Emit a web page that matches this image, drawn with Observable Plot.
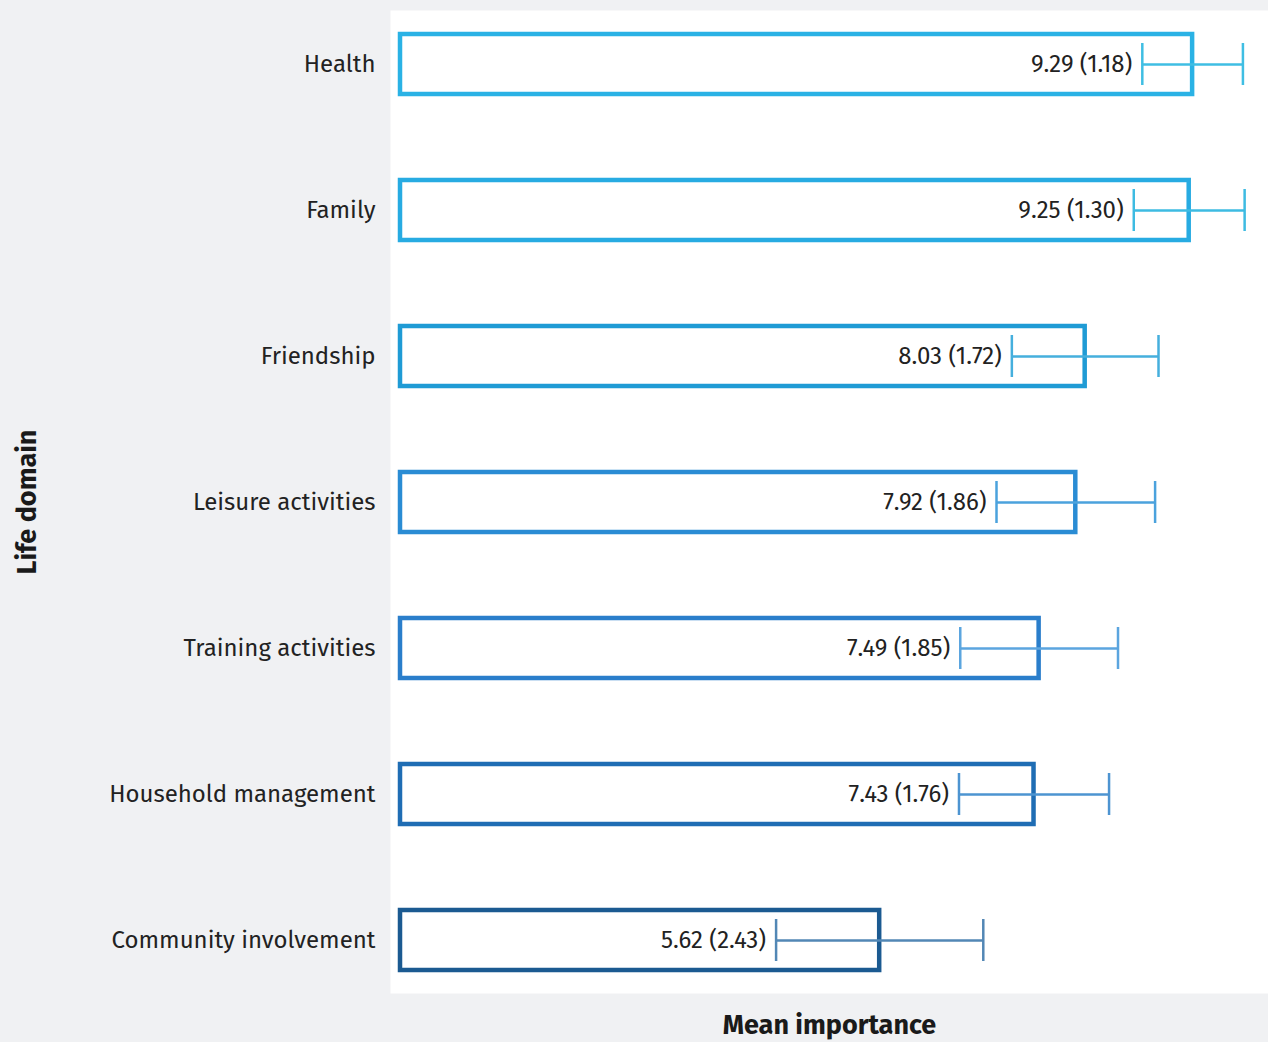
<!DOCTYPE html>
<html>
<head>
<meta charset="utf-8">
<script src="https://cdn.jsdelivr.net/npm/d3@7"></script>
<script src="https://cdn.jsdelivr.net/npm/@observablehq/plot@0.6"></script>
<style>
  html, body { margin: 0; padding: 0; background: #f0f1f3; }
  #chart svg { display: block; }
</style>
</head>
<body>
<div id="chart"></div>
<script>
const domains = ["Health", "Family", "Friendship", "Leisure activities", "Training activities", "Household management", "Community involvement"];
const means = [9.29, 9.25, 8.03, 7.92, 7.49, 7.43, 5.62];
const sds = [1.18, 1.30, 1.72, 1.86, 1.85, 1.76, 2.43];
const barColors = ["#2ab2e5", "#27abe2", "#1f9bd5", "#2a8cd4", "#2a7ecb", "#1f6db4", "#1b5a91"];
const errColors = ["#3fbee3", "#3dbbe2", "#45afdd", "#4ba2dd", "#5ba5df", "#4d94d1", "#5287b5"];

const data = domains.map((d, i) => ({
  domain: d, mean: means[i], sd: sds[i],
  lo: means[i] - sds[i] / 2, hi: means[i] + sds[i] / 2,
  bar: barColors[i], err: errColors[i],
  label: `${means[i].toFixed(2)} (${sds[i].toFixed(2)})`
}));

const font = "'Fira Sans', 'Noto Sans', sans-serif";

const chart = Plot.plot({
  width: 1268,
  height: 1042,
  marginLeft: 390,
  marginRight: 0,
  marginTop: 10,
  marginBottom: 49,
  style: { background: "#f0f1f3", fontFamily: font, color: "#222" },
  x: { domain: [0, 10.18], insetLeft: 10, axis: null },
  y: { domain: domains, paddingInner: 0.59, paddingOuter: 0.15, axis: null },
  marks: [
    Plot.frame({ fill: "white", stroke: null }),
    Plot.axisY({ tickSize: 0, tickPadding: 15, label: null, fontSize: 24, fill: "#222" }),
    Plot.barX(data, { x1: 0, x2: "mean", y: "domain", fill: "white", stroke: "bar", strokeWidth: 4.5 }),
    Plot.ruleY(data, { y: "domain", x1: "lo", x2: "hi", stroke: "err", strokeWidth: 2.5 }),
    Plot.tickX(data, { x: "lo", y: "domain", stroke: "err", strokeWidth: 2.5, insetTop: 9, insetBottom: 9 }),
    Plot.tickX(data, { x: "hi", y: "domain", stroke: "err", strokeWidth: 2.5, insetTop: 9, insetBottom: 9 }),
    Plot.text(data, { x: "lo", y: "domain", text: "label", textAnchor: "end", dx: -10, fontSize: 24, fill: "#222" }),
    Plot.text(["Mean importance"], { frameAnchor: "bottom", textAnchor: "middle", lineAnchor: "bottom", dy: 40, fontSize: 27, fontWeight: "bold", fill: "#1a1a1a" }),
    Plot.text(["Life domain"], { frameAnchor: "left", textAnchor: "middle", dx: -363, rotate: -90, fontSize: 27, fontWeight: "bold", fill: "#1a1a1a" })
  ]
});
document.getElementById("chart").appendChild(chart);
</script>
</body>
</html>
